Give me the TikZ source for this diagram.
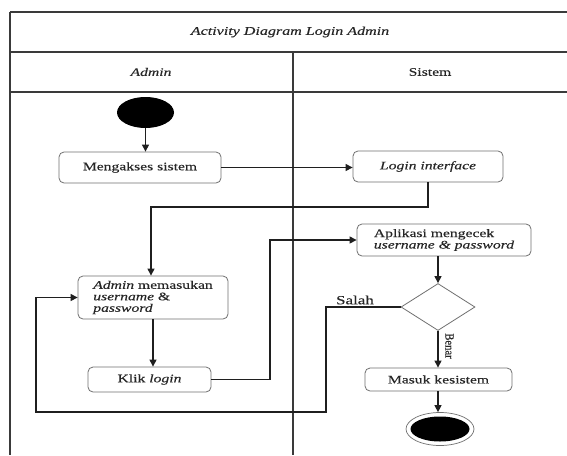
\documentclass[tikz,border=0pt]{standalone}
\usepackage{fontspec}
\setmainfont{Liberation Serif}[FakeStretch=1.36,FakeBold=0.2]
\newfontfamily\uprightlabel{Liberation Serif}[FakeStretch=0.85,FakeBold=0.2]
\usetikzlibrary{arrows.meta,shapes.geometric}

\definecolor{framegray}{HTML}{3A3A3A}
\definecolor{boxgray}{HTML}{707070}
\definecolor{inkgray}{HTML}{262626}

\tikzset{
  txt/.style={font=\fontsize{11.5}{11.5}\selectfont, text=inkgray, inner sep=0pt},
  actbox/.style={txt, draw=boxgray, line width=0.8pt, rounded corners=5pt},
  framerule/.style={draw=framegray, line width=1.4pt},
  wire/.style={draw=black!88, line width=1.1pt},
  flow/.style={wire, -{Triangle[length=7pt,width=7pt]}},
}

\begin{document}
\begin{tikzpicture}[x=1pt,y=-1pt]
  % canvas
  \fill[white] (0,0) rectangle (567,455);
  \useasboundingbox (0,0) rectangle (567,455);

  % swimlane frame
  \draw[framerule] (10,12) -- (567,12);
  \draw[framerule] (10,52) -- (567,52);
  \draw[framerule] (10,92) -- (567,92);
  \draw[framerule] (10,12) -- (10,455);
  \draw[framerule] (293,52) -- (293,455);

  \node[txt, font=\fontsize{11.8}{11.8}\selectfont] (title) at (290,32) {\textit{Activity Diagram Login Admin}};
  \node[txt] (laneA) at (151,72) {\textit{Admin}};
  \node[txt] (laneS) at (430,72) {Sistem};

  % Admin lane
  \node[ellipse, fill=black, minimum width=57pt, minimum height=31pt, inner sep=0pt] (start) at (145.5,112.5) {};
  \node[actbox, minimum width=162pt, minimum height=31pt] (akses) at (140,167.5) {Mengakses sistem};
  \node[actbox, minimum width=150pt, minimum height=43pt, align=left] (adm) at (153,297.5)
    {\textit{Admin} memasukan\\ \textit{username} \&\\ \textit{password}};
  \node[actbox, minimum width=123pt, minimum height=25pt] (klik) at (149.5,379.5) {Klik \textit{login}};

  % Sistem lane
  \node[actbox, minimum width=150pt, minimum height=31pt] (login) at (428,166.5) {\textit{Login interface}};
  \node[actbox, minimum width=174pt, minimum height=32pt, align=left] (apl) at (444,240)
    {Aplikasi mengecek\\ \textit{username \& password}};
  \node[diamond, draw=boxgray, line width=0.8pt, minimum width=74pt, minimum height=47pt, inner sep=0pt] (dec) at (438,307) {};
  \node[actbox, minimum width=147pt, minimum height=23pt] (masuk) at (438.5,379.5) {Masuk kesistem};
  \node[ellipse, draw=boxgray, line width=0.7pt, minimum width=68pt, minimum height=33pt, inner sep=0pt] (endo) at (440,429) {};
  \node[ellipse, fill=black, minimum width=59pt, minimum height=25pt, inner sep=0pt] (endi) at (440,429) {};

  % bend points
  \coordinate (lbend) at (151,207);
  \coordinate (kturn) at (270,0);
  \coordinate (sdrop) at (326,412);
  \coordinate (sback) at (36,412);

  % flows
  \draw[flow] (start.south) -- (start.south |- akses.north);
  \draw[flow] (akses.east) -- (login.west |- akses.east);
  \draw[flow] (login.south) |- (lbend) -- (lbend |- adm.north);
  \draw[flow] (adm.south) -- (klik.north -| adm.south);
  \draw[flow] (klik.east) -| (kturn |- apl.west) -- (apl.west);
  \draw[flow] (apl.south -| dec.north) -- (dec.north);
  \draw[flow] (dec.south) -- (masuk.north -| dec.south);
  \draw[flow] (masuk.south -| dec.south) -- (endo.north -| dec.south);
  \draw[flow] (dec.west) -| (sdrop) -- (sback) |- (adm.west);

  \node[txt, font=\fontsize{12.5}{12.5}\selectfont] (salah) at (355,300) {Salah};
  \node[font=\uprightlabel\fontsize{12.5}{12.5}\selectfont, text=inkgray, inner sep=0pt, rotate=-90] (benar) at (449.5,346) {Benar};
\end{tikzpicture}
\end{document}
